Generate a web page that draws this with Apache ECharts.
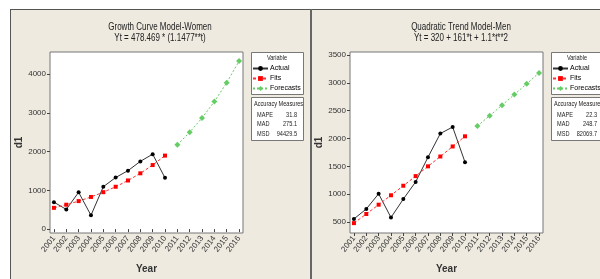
<!DOCTYPE html>
<html>
<head>
<meta charset="utf-8">
<script src="https://cdn.jsdelivr.net/npm/echarts@6/dist/echarts.min.js"></script>
<style>
  html, body { margin: 0; padding: 0; background: #fff; }
  #chart { width: 600px; height: 279px; }
</style>
</head>
<body>
<div id="chart"></div>
<script>
var years = [2001, 2002, 2003, 2004, 2005, 2006, 2007, 2008, 2009, 2010, 2011, 2012, 2013, 2014, 2015, 2016];
var fitYears = [2001, 2002, 2003, 2004, 2005, 2006, 2007, 2008, 2009, 2010];
var forecastYears = [2011, 2012, 2013, 2014, 2015, 2016];

var womenActual = [695, 509, 950, 356, 1094, 1331, 1509, 1748, 1934, 1323];
var womenFits = [549, 630, 723, 830, 953, 1093, 1255, 1440, 1653, 1897];
var womenForecasts = [2177, 2499, 2868, 3291, 3778, 4335];
var womenTicks = [0, 1000, 2000, 3000, 4000];

var menActual = [558, 736, 1009, 583, 913, 1222, 1665, 2090, 2207, 1576];
var menFits = [482, 646, 813, 982, 1153, 1326, 1501, 1678, 1858, 2040];
var menForecasts = [2224, 2410, 2599, 2790, 2983, 3178];
var menTicks = [500, 1000, 1500, 2000, 2500, 3000, 3500];

var womenMeasures = [['MAPE', '31.8'], ['MAD', '275.1'], ['MSD', '94429.5']];
var menMeasures = [['MAPE', '22.3'], ['MAD', '248.7'], ['MSD', '82069.7']];

var FONT = '"Liberation Sans", Arial, sans-serif';
var BEIGE = '#eeeae0';
var SQUEEZE = 0.8;

function pairs(xs, ys) {
    return xs.map(function (x, i) { return [x, ys[i]]; });
}

function xAxisFor(gridIndex) {
    return {
        type: 'value', gridIndex: gridIndex,
        min: 2000.68, max: 2016.32,
        name: 'Year', nameLocation: 'middle', nameGap: 31,
        nameTextStyle: { fontFamily: FONT, fontSize: 10, fontWeight: 'bold', color: '#333' },
        axisLine: { show: false },
        axisTick: { show: true, customValues: years, length: 3, lineStyle: { color: '#444' } },
        axisLabel: {
            customValues: years, rotate: 52, fontSize: 8, fontFamily: FONT, color: '#333', margin: 4,
            formatter: function (v) { return String(v); }
        },
        splitLine: { show: false }
    };
}

function yAxisFor(gridIndex, min, max, ticks) {
    return {
        type: 'value', gridIndex: gridIndex,
        min: min, max: max,
        name: 'd1', nameLocation: 'middle', nameGap: 26,
        nameTextStyle: { fontFamily: FONT, fontSize: 10, fontWeight: 'bold', color: '#333' },
        axisLine: { show: false },
        axisTick: { show: true, customValues: ticks, length: 3, lineStyle: { color: '#444' } },
        axisLabel: {
            customValues: ticks, fontSize: 8, fontFamily: FONT, color: '#333', margin: 4,
            formatter: function (v) { return String(v); }
        },
        splitLine: { show: false }
    };
}

function seriesFor(idx, actual, fits, forecasts) {
    return [
        {
            name: 'Actual', type: 'line', xAxisIndex: idx, yAxisIndex: idx,
            data: pairs(fitYears, actual),
            symbol: 'circle', symbolSize: 4,
            itemStyle: { color: '#000' },
            lineStyle: { color: '#333', width: 1 }
        },
        {
            name: 'Fits', type: 'line', xAxisIndex: idx, yAxisIndex: idx,
            data: pairs(fitYears, fits),
            symbol: 'rect', symbolSize: 4,
            itemStyle: { color: '#ff0000' },
            lineStyle: { color: '#ff3030', width: 1, type: [3, 2] }
        },
        {
            name: 'Forecasts', type: 'line', xAxisIndex: idx, yAxisIndex: idx,
            data: pairs(forecastYears, forecasts),
            symbol: 'diamond', symbolSize: 6,
            itemStyle: { color: '#66cc66' },
            lineStyle: { color: '#66cc66', width: 1, type: [2, 2] }
        }
    ];
}

function legendFor(left) {
    return {
        orient: 'vertical', left: left, top: 65, padding: 0,
        itemWidth: 15, itemHeight: 6, itemGap: 3,
        textStyle: { fontFamily: FONT, fontSize: 7, color: '#000', padding: [0, 0, 0, -3] },
        data: ['Actual', 'Fits', 'Forecasts']
    };
}

function txt(x, y, s, size, align) {
    return {
        type: 'text', x: x, y: y, scaleX: SQUEEZE, z: 50,
        style: { text: s, font: size + 'px ' + FONT, fill: '#222', align: align, verticalAlign: 'middle' }
    };
}

function panelGraphics(cx, boxX, title, formula, measures) {
    var g = [
        txt(cx, 27, title, 10, 'center'),
        txt(cx, 38, formula, 10, 'center'),
        { type: 'rect', shape: { x: boxX + 0.5, y: 52.5, width: 52, height: 42 }, style: { fill: '#fff', stroke: '#777', lineWidth: 1 }, z: -5 },
        { type: 'rect', shape: { x: boxX + 0.5, y: 97.5, width: 52, height: 43 }, style: { fill: '#fff', stroke: '#777', lineWidth: 1 }, z: -5 },
        txt(boxX + 26, 58, 'Variable', 7, 'center'),
        txt(boxX + 3, 104, 'Accuracy Measures', 7, 'left')
    ];
    measures.forEach(function (m, i) {
        g.push(txt(boxX + 6, 115 + i * 9.5, m[0], 7, 'left'));
        g.push(txt(boxX + 46, 115 + i * 9.5, m[1], 7, 'right'));
    });
    return g;
}

var chart = echarts.init(document.getElementById('chart'));

var graphics = [
    { type: 'rect', shape: { x: 10, y: 9, width: 600, height: 280 }, style: { fill: BEIGE }, z: -20 },
    { type: 'line', shape: { x1: 10, y1: 9.5, x2: 600, y2: 9.5 }, style: { stroke: '#555', lineWidth: 1 }, z: -10 },
    { type: 'line', shape: { x1: 10.5, y1: 9, x2: 10.5, y2: 279 }, style: { stroke: '#555', lineWidth: 1 }, z: -10 },
    { type: 'line', shape: { x1: 311, y1: 9, x2: 311, y2: 279 }, style: { stroke: '#666', lineWidth: 2 }, z: -10 }
].concat(
    panelGraphics(160, 251, 'Growth Curve Model-Women', 'Yt = 478.469 * (1.1477**t)', womenMeasures),
    panelGraphics(461, 551, 'Quadratic Trend Model-Men', 'Yt = 320 + 161*t + 1.1*t**2', menMeasures)
);

var option = {
    backgroundColor: '#fff',
    animation: false,
    grid: [
        { left: 50, top: 52, width: 193, height: 183, show: true, backgroundColor: '#fff', borderColor: '#777', borderWidth: 1 },
        { left: 350, top: 52, width: 193, height: 183, show: true, backgroundColor: '#fff', borderColor: '#777', borderWidth: 1 }
    ],
    xAxis: [xAxisFor(0), xAxisFor(1)],
    yAxis: [yAxisFor(0, -100, 4570, womenTicks), yAxisFor(1, 305, 3553, menTicks)],
    legend: [legendFor(252), legendFor(552)],
    graphic: graphics,
    series: seriesFor(0, womenActual, womenFits, womenForecasts)
        .concat(seriesFor(1, menActual, menFits, menForecasts))
};

chart.setOption(option);
</script>
</body>
</html>
